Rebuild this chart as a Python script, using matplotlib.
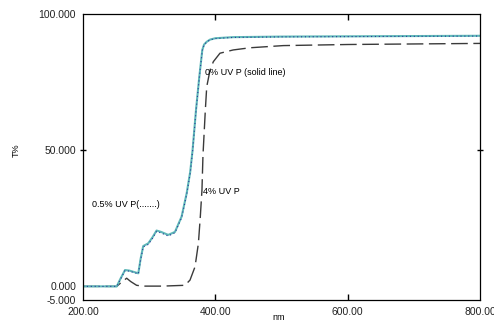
import matplotlib.pyplot as plt

# 0% UV P (solid line)
nm_0 = [200, 251, 256, 263.5, 270, 283.6, 287, 291, 298.6, 305, 311.2, 318, 328.8, 339, 349,
        356.7, 362, 365.6, 370.8, 375.8, 380.3, 383, 387, 392, 400, 427, 500, 600, 700, 800]
t_0 = [0, 0, 2.5, 6.0, 5.8, 4.8, 10.0, 14.8, 15.8, 18.0, 20.5, 20.0, 18.9, 20.0, 25.6,
       34.2, 42.0, 50.0, 64.8, 77.0, 86.8, 88.8, 89.8, 90.6, 91.1, 91.5, 91.7, 91.8, 91.9, 92.0]

# 0.5% UV P (dotted)
nm_05 = [200, 251, 256, 263.5, 270, 283.6, 287, 291, 298.6, 305, 311.2, 318, 328.8, 339, 349,
         356.7, 362, 365.6, 370.8, 375.8, 380.3, 383, 387, 392, 400, 427, 500, 600, 700, 800]
t_05 = [0, 0, 2.3, 5.8, 5.6, 4.6, 9.6, 14.5, 15.4, 17.6, 20.2, 19.6, 18.5, 19.7, 25.2,
        33.8, 41.5, 49.6, 64.4, 76.7, 86.6, 88.7, 89.7, 90.5, 91.0, 91.4, 91.6, 91.7, 91.8, 91.9]

# 4% UV P (dashed)
nm_4 = [200, 251, 258, 266, 272, 281, 290, 320, 354, 361.7, 369.3, 374.4, 377.3, 379.8, 381.3,
        384.9, 387, 392, 397, 407, 427, 452.4, 502.8, 600, 700, 800]
t_4 = [0, 0, 1.5, 3.0, 1.8, 0.4, 0.1, 0.1, 0.4, 2.3, 7.2, 15.8, 25.6, 35.4, 48.0,
       64.8, 73.3, 79.4, 82.5, 85.6, 86.8, 87.6, 88.4, 88.8, 89.0, 89.2]

x_ticks = [200, 400, 600, 800]
x_labels = ['200.00', '400.00', '600.00', '800.00']
y_ticks = [-5, 0, 50, 100]
y_labels = ['-5.000', '0.000', '50.000', '100.000']

plt.rcParams['font.family'] = ['Liberation Sans', 'DejaVu Sans']

fig = plt.figure(figsize=(4.94, 3.21), dpi=100)
ax = fig.add_axes([0.168, 0.0654, 0.8037, 0.891])

ax.plot(nm_4, t_4, color='#3a3a3a', lw=1.0, dashes=(12, 4))
ax.plot(nm_0, t_0, color='#5fb8b8', lw=1.5)
ax.plot(nm_05, t_05, color='#2a3a9a', lw=0.8, linestyle=(0, (1, 2.5)))

ax.set_xlim(200, 800)
ax.set_ylim(-5, 100)
ax.set_xticks(x_ticks)
ax.set_xticklabels(x_labels, fontsize=7.5, color='#222222')
ax.set_yticks(y_ticks)
ax.set_yticklabels(y_labels, fontsize=7.5, color='#222222')
ax.tick_params(axis='both', which='major', length=0, pad=5)

# small tick marks only at the inner positions
ax.xaxis.remove_overlapping_locs = False
ax.yaxis.remove_overlapping_locs = False
ax.set_xticks([400, 600], minor=True)
ax.set_yticks([50], minor=True)
ax.tick_params(axis='x', which='minor', direction='in', top=True, length=4, width=1.0)
ax.tick_params(axis='y', which='minor', direction='inout', right=True, length=5, width=1.0)

for s in ax.spines.values():
    s.set_linewidth(0.9)

ax.text(384, 78.7, '0% UV P (solid line)', fontsize=6.5, va='center', ha='left')
ax.text(382, 35, '4% UV P', fontsize=6.5, va='center', ha='left')
ax.text(214, 30.2, '0.5% UV P(.......)', fontsize=6.5, va='center', ha='left')

fig.text(16 / 494, 1 - 150 / 321, 'T%', rotation=90, fontsize=6.5, ha='center', va='center')
fig.text(279 / 494, 1 - 318 / 321, 'nm', fontsize=6.5, ha='center', va='center')

fig.savefig('out.png', dpi=100)
